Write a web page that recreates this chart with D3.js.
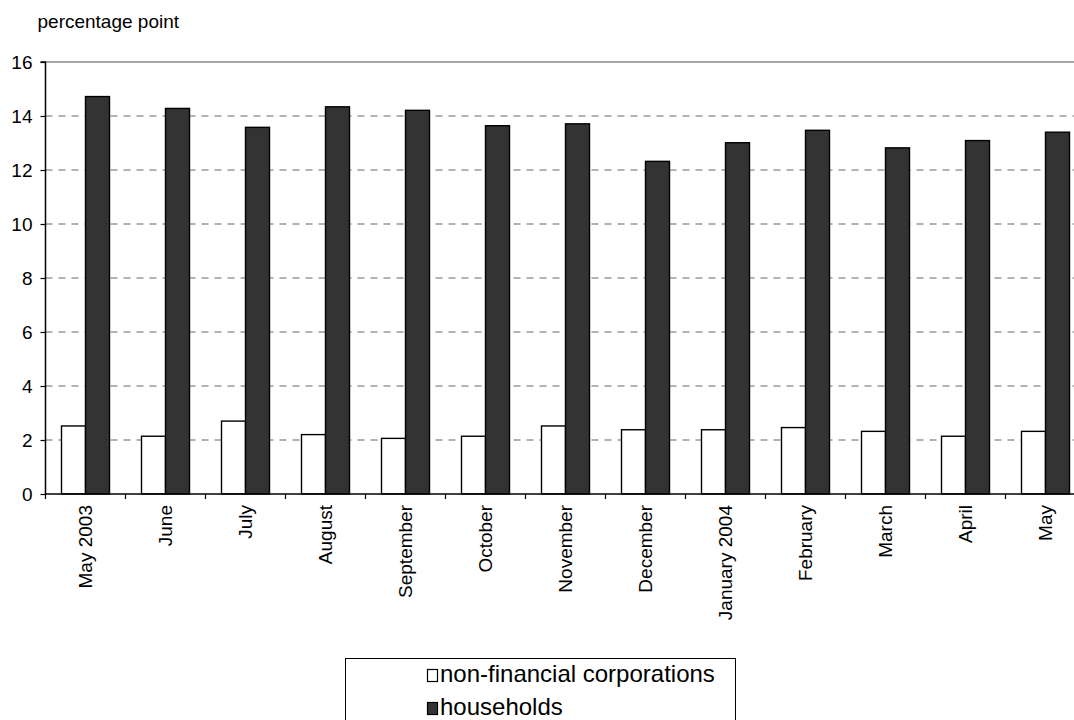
<!DOCTYPE html>
<html><head><meta charset="utf-8">
<script src="https://cdn.jsdelivr.net/npm/d3@7"></script>
<style>body{margin:0;background:#fff}svg{display:block;font-family:"Liberation Sans",Arial,sans-serif}</style>
</head><body><svg id="c" width="1074" height="720"></svg>
<script>
const categories = ["May 2003","June","July","August","September","October","November","December","January 2004","February","March","April","May"];
const nonFinancial = [2.52,2.14,2.70,2.20,2.06,2.14,2.52,2.38,2.38,2.46,2.32,2.14,2.32];
const households = [14.72,14.28,13.58,14.34,14.21,13.64,13.71,12.32,13.01,13.47,12.82,13.09,13.40];
const seriesNames = ["non-financial corporations","households"];
const yTicks = [0,2,4,6,8,10,12,14,16];
const unitLabel = "percentage point";

const svg = d3.select("#c");
const pLeft = 45.5, pRight = 1085.5, pTop = 62, pBottom = 494;
const x = d3.scaleBand().domain(categories).range([pLeft,pRight]).paddingInner(0.4).paddingOuter(0.2);
const y = d3.scaleLinear().domain([0,16]).range([pBottom,pTop]);
const step = x.step(), bw = x.bandwidth()/2;

// gridlines
svg.append("g").selectAll("line").data(yTicks.filter(t=>t>0 && t<16)).join("line")
  .attr("x1",pLeft).attr("x2",1074).attr("y1",d=>y(d)).attr("y2",d=>y(d))
  .attr("stroke","#666").attr("stroke-width",1).attr("stroke-dasharray","7,6");
svg.append("line").attr("x1",pLeft).attr("x2",1074).attr("y1",y(16)).attr("y2",y(16))
  .attr("stroke","#888").attr("stroke-width",1.6);

// bars
const data = categories.map((c,i)=>({c, v:[nonFinancial[i],households[i]]}));
const g = svg.append("g");
data.forEach(d=>{
  d.v.forEach((v,k)=>{
    g.append("rect").attr("x",x(d.c)+k*bw).attr("y",y(v)).attr("width",bw).attr("height",y(0)-y(v))
      .attr("fill",k===0?"#fff":"#333").attr("stroke","#000").attr("stroke-width",1.4);
  });
});

// y axis
const ya = svg.append("g").attr("transform",`translate(${pLeft},0)`)
  .call(d3.axisLeft(y).tickValues(yTicks).tickSize(5).tickPadding(8).tickFormat(d3.format("d")));
ya.select(".domain").attr("stroke","#000").attr("stroke-width",1.5).attr("d",`M-5,${y(16)}H0V${y(0)}`);
ya.selectAll(".tick line").attr("stroke","#000").attr("stroke-width",1.2);
ya.selectAll(".tick text").attr("font-size",19).attr("fill","#000").attr("font-family","Liberation Sans, Arial, sans-serif");

// x axis line and ticks between categories
svg.append("line").attr("x1",pLeft).attr("x2",1074).attr("y1",y(0)).attr("y2",y(0)).attr("stroke","#000").attr("stroke-width",1.5);
svg.append("g").selectAll("line").data(d3.range(categories.length+1)).join("line")
  .attr("x1",i=>pLeft+i*step).attr("x2",i=>pLeft+i*step).attr("y1",y(0)).attr("y2",y(0)+5)
  .attr("stroke","#000").attr("stroke-width",1.2);
svg.append("g").selectAll("text").data(categories).join("text")
  .attr("transform",d=>`translate(${x(d)+x.bandwidth()/2},505) rotate(-90)`)
  .attr("text-anchor","end").attr("dy","0.35em").attr("font-size",19).attr("fill","#000").text(d=>d);

// unit label
svg.append("text").attr("x",37.5).attr("y",28).attr("font-size",19).attr("fill","#000").text(unitLabel);

// legend
const lg = svg.append("g");
lg.append("rect").attr("x",345.5).attr("y",658.5).attr("width",390).attr("height",80).attr("fill","#fff").attr("stroke","#000").attr("stroke-width",1);
seriesNames.forEach((n,k)=>{
  const by = 682 + k*33;
  lg.append("rect").attr("x",427.5).attr("y",by-12.5).attr("width",10).attr("height",12)
    .attr("fill",k===0?"#fff":"#333").attr("stroke","#000").attr("stroke-width",1.2);
  lg.append("text").attr("x",440).attr("y",by).attr("font-size",24).attr("fill","#000").text(n);
});
</script></body></html>
